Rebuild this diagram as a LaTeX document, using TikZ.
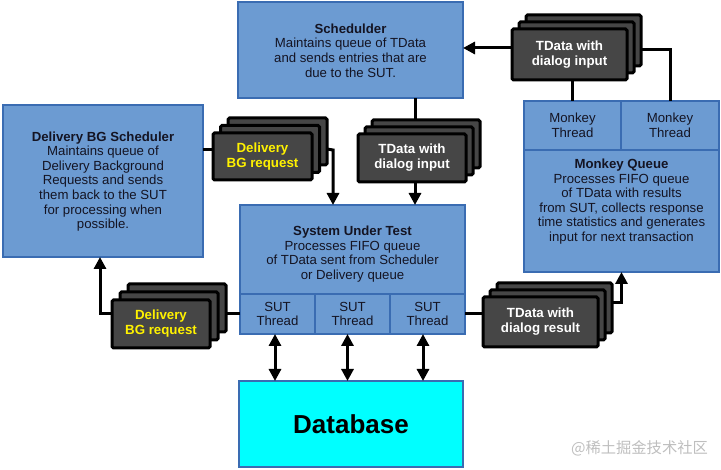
\documentclass[tikz,border=0pt]{standalone}
\usepackage{fontspec}
\setmainfont{Liberation Sans}
\newfontfamily\cjkfont{Noto Sans CJK SC}
\usetikzlibrary{arrows.meta,calc}
\definecolor{boxblue}{RGB}{108,155,210}
\definecolor{edgeblue}{RGB}{58,108,178}
\definecolor{darkfill}{RGB}{70,70,70}
\definecolor{dbcyan}{RGB}{0,255,255}
\definecolor{wmgray}{RGB}{190,190,190}
\definecolor{txtdark}{RGB}{20,20,35}
% name, style, x1, y1, x2, y2, text
\newcommand\mkbox[7]{%
  \node[#2, minimum width={(#5)-(#3)}, minimum height={(#6)-(#4)}]
    (#1) at ({((#3)+(#5))/2},{((#4)+(#6))/2}) {#7};}
% name, x1, y1, x2, y2, offset, text (front box corners)
\newcommand\mkstack[7]{%
  \mkbox{#1-b}{darkbox}{#2+2*#6}{#3-2*#6}{#4+2*#6}{#5-2*#6}{}
  \mkbox{#1-m}{darkbox}{#2+#6}{#3-#6}{#4+#6}{#5-#6}{}
  \mkbox{#1}{darkbox}{#2}{#3}{#4}{#5}{#7}}
\begin{document}
\begin{tikzpicture}[x=1pt,y=-1pt,
  bluebox/.style={draw=edgeblue, fill=boxblue, line width=2.6pt, inner sep=0pt, outer sep=0pt},
  dbbox/.style={draw=edgeblue, fill=dbcyan, line width=2.6pt, inner sep=0pt, outer sep=0pt,
     font=\fontsize{26}{30}\selectfont\bfseries, text=black},
  darkbox/.style={draw=black, fill=darkfill, line width=3pt, rounded corners=1.5pt,
     inner sep=0pt, outer sep=0pt, align=center, font=\fontsize{13.3}{15}\selectfont\bfseries},
  desc/.style={align=center, inner sep=0pt, text=txtdark, font=\fontsize{13.2}{14.6}\selectfont},
  conn/.style={line width=3pt, black},
  arr/.style={conn, -{Triangle[length=12pt,width=12pt]}},
  dbl/.style={conn, {Triangle[length=12pt,width=12pt]}-{Triangle[length=12pt,width=12pt]}}
]
\useasboundingbox (0,0) rectangle (721,470);

% Scheduler
\mkbox{sched}{bluebox}{238}{2}{463}{98}{}
\node[desc] (schedt) at (350.5,50.5) {\textbf{Schedulder}\\Maintains queue of TData\\and sends entries that are\\due to the SUT.};

% Delivery BG Scheduler
\mkbox{dbgs}{bluebox}{3}{105}{203}{257}{}
\node[desc] (dbgst) at (103,181.5) {\textbf{Delivery BG Scheduler}\\Maintains queue of\\Delivery Background\\Requests and sends\\them back to the SUT\\for processing when\\possible.};

% System Under Test
\mkbox{sut}{bluebox}{240}{205}{465}{294}{}
\mkbox{sutth1}{bluebox}{240}{294}{315}{334}{}
\mkbox{sutth2}{bluebox}{315}{294}{390}{334}{}
\mkbox{sutth3}{bluebox}{390}{294}{465}{334}{}
\node[desc] (sutt) at (352.5,254) {\textbf{System Under Test}\\Processes FIFO queue\\of TData sent from Scheduler\\or Delivery queue};
\node[desc] (sutth1t) at (sutth1) {SUT\\Thread};
\node[desc] (sutth2t) at (sutth2) {SUT\\Thread};
\node[desc] (sutth3t) at (sutth3) {SUT\\Thread};

% Monkey Queue
\mkbox{mt1}{bluebox}{524}{101}{621}{150}{}
\mkbox{mt2}{bluebox}{621}{101}{719}{150}{}
\mkbox{mq}{bluebox}{524}{150}{719}{272}{}
\node[desc] (mt1t) at (mt1) {Monkey\\Thread};
\node[desc] (mt2t) at (mt2) {Monkey\\Thread};
\node[desc] (mqt) at (621.5,201.5) {\textbf{Monkey Queue}\\Processes FIFO queue\\of TData with results\\from SUT, collects response\\time statistics and generates\\input for next transaction};

% Database
\mkbox{db}{dbbox}{239}{381}{463}{467}{Database}

% stacks
\mkstack{tdtop}{512}{29}{627}{80}{7}{\textcolor{white}{TData with}\\\textcolor{white}{dialog input}}
\mkstack{tdin}{358}{134}{466}{182}{7}{\textcolor{white}{TData with}\\\textcolor{white}{dialog input}}
\mkstack{dbgtop}{213}{133}{312}{180}{7.5}{\textcolor{yellow}{Delivery}\\\textcolor{yellow}{BG request}}
\mkstack{dbglow}{112}{300}{210}{348}{8}{\textcolor{yellow}{Delivery}\\\textcolor{yellow}{BG request}}
\mkstack{tdres}{483}{297}{598}{347}{7}{\textcolor{white}{TData with}\\\textcolor{white}{dialog result}}

% connectors
\coordinate (c1) at ([yshift=6.5pt]tdtop.west);
\draw[arr] (c1) -- (c1 -| sched.east);
\coordinate (c2) at ([yshift=-9.5pt]tdtop-b.east);
\draw[conn] (c2) -| (mt2.north);
\draw[conn] (mt1.north) -- (mt1.north |- tdtop.south);
\coordinate (c3) at ([xshift=3pt]sched.south -| tdin.south);
\draw[conn] (c3) -- (c3 |- tdin-b.north);
\coordinate (c4) at ([xshift=3pt]tdin.south);
\draw[arr] (c4) -- (c4 |- sut.north);
\coordinate (c5) at ([yshift=6.5pt]dbgtop.west);
\draw[conn] (c5) -- (c5 -| dbgs.east);
\coordinate (c6) at ([yshift=-7.5pt]dbgtop-b.east);
\coordinate (dbgdrop) at (333,150);
\draw[arr] (c6) -- (dbgdrop) -- (dbgdrop |- sut.north);
\coordinate (c7) at ([yshift=10.5pt]dbglow.west);
\coordinate (upcol) at (100,257);
\draw[arr] (c7) -| (upcol);
\draw[conn] (sutth1.west) -- (sutth1.west -| dbglow-b.east);
\draw[conn] (sutth3.east) -- (sutth3.east -| tdres.west);
\coordinate (c8) at ([yshift=5pt]tdres-b.east);
\draw[arr] (c8) -| (mq.south);
\coordinate (d1) at ([xshift=-2.5pt]sutth1.south);
\coordinate (d2) at ([xshift=-5pt]sutth2.south);
\coordinate (d3) at ([xshift=-4.5pt]sutth3.south);
\draw[dbl] (d1) -- (d1 |- db.north);
\draw[dbl] (d2) -- (d2 |- db.north);
\draw[dbl] (d3) -- (d3 |- db.north);

% watermark
\node[text=wmgray, font=\cjkfont\fontsize{15.3}{17}\selectfont, inner sep=0pt] (wm) at (639.5,448) {@稀土掘金技术社区};
\end{tikzpicture}
\end{document}
